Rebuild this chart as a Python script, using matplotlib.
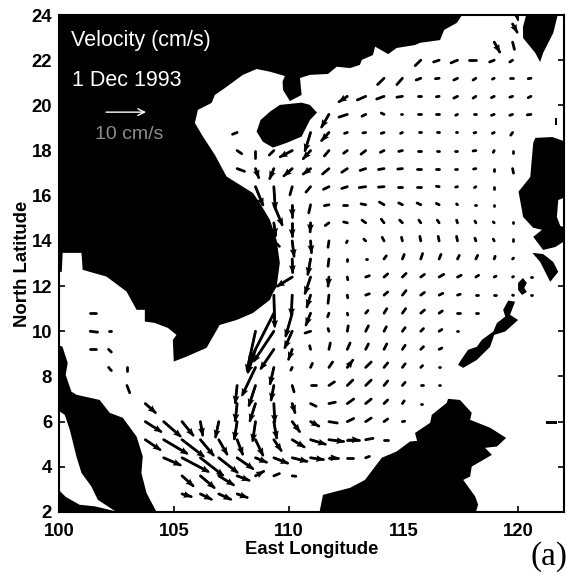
#!/usr/bin/env python
"""South China Sea surface velocity, 1 Dec 1993."""
import matplotlib
matplotlib.use("Agg")
import matplotlib.pyplot as plt
from matplotlib.collections import LineCollection
import numpy as np

# Coastlines as (lon, lat)
mainland = [(117.69, 24.2), (117.33, 23.65), (116.78, 23.34), (116.60, 22.89), (115.73, 22.77),
            (115.51, 22.67), (114.71, 22.54), (114.34, 22.27), (113.77, 22.60), (113.68, 22.23),
            (113.19, 22.01), (113.11, 21.79), (112.68, 21.65), (112.10, 21.71), (111.72, 21.39),
            (110.93, 21.35), (110.50, 21.21), (110.57, 20.46), (110.06, 20.19), (109.76, 20.68),
            (109.74, 21.05), (109.84, 21.30), (109.19, 21.49), (108.61, 21.61), (108.01, 21.35),
            (107.23, 20.77), (106.79, 20.46), (106.65, 20.11), (106.05, 19.80), (105.92, 19.22),
            (106.27, 18.62), (106.79, 17.81), (107.30, 16.85), (108.45, 16.12), (108.75, 15.68),
            (109.19, 14.93), (109.48, 14.04), (109.62, 13.03), (109.48, 11.96), (109.32, 11.70),
            (109.19, 11.39), (108.45, 10.81), (107.74, 10.50), (107.00, 10.28), (106.43, 9.27),
            (105.56, 8.88), (105.00, 8.66), (104.96, 9.62), (105.12, 9.84), (104.74, 10.15),
            (104.17, 10.37), (103.74, 10.43), (103.74, 10.95), (103.38, 10.95), (102.94, 11.76),
            (102.07, 12.42), (101.03, 12.72), (100.98, 13.47), (100.16, 13.47), (100.12, 12.63),
            (99.9, 12.63), (99.9, 24.2)]
hainan = [(109.62, 20.02), (110.57, 20.12), (110.93, 20.02), (111.24, 19.68), (110.93, 19.35),
          (110.57, 18.62), (109.92, 18.34), (109.32, 18.13), (108.88, 18.39), (108.61, 18.84),
          (108.78, 19.35), (109.19, 19.72)]
malay = [(99.9, 9.4), (100.15, 9.32), (100.38, 8.60), (100.29, 8.07), (100.54, 7.33),
         (100.76, 7.19), (101.77, 6.96), (102.21, 6.39), (102.78, 6.17), (103.38, 5.34),
         (103.65, 4.46), (103.59, 3.73), (103.81, 2.85), (104.30, 1.9), (102.5, 1.9),
         (102.5, 2.0), (101.69, 2.54), (101.41, 3.13), (100.98, 3.73), (100.76, 4.45),
         (100.47, 5.64), (100.25, 6.30), (100.03, 6.45), (99.9, 6.43)]
sumatra = [(99.9, 3.07), (100.29, 2.67), (100.9, 2.32), (101.56, 2.25), (102.6, 2.0),
           (102.6, 1.9), (99.9, 1.9)]
borneo = [(111.33, 1.9), (111.50, 2.76), (112.68, 3.07), (113.33, 3.42), (114.06, 4.40),
          (114.71, 4.68), (115.29, 5.12), (115.6, 5.15), (115.51, 5.50), (116.17, 5.95),
          (116.24, 6.30), (116.89, 6.83), (116.95, 7.01), (117.47, 6.96), (117.98, 6.39),
          (117.91, 6.08), (118.78, 5.73), (119.48, 5.28), (119.08, 4.90), (118.56, 4.84),
          (118.86, 4.53), (117.98, 4.01), (117.91, 3.57), (117.61, 3.42), (118.13, 2.69),
          (118.26, 2.32), (118.13, 1.9)]
luzon = [(120.75, 18.56), (121.49, 18.60), (122.1, 18.38), (122.1, 15.95), (121.75, 15.81),
         (121.69, 15.06), (121.84, 14.66), (122.1, 14.58), (122.1, 14.04), (121.62, 13.73),
         (121.09, 13.60), (120.66, 14.18), (121.04, 14.49), (120.66, 14.58), (120.22, 15.06),
         (120.02, 16.18), (120.53, 16.83), (120.66, 18.34)]
mindoro = [(120.62, 13.47), (121.09, 13.42), (121.53, 13.07), (121.75, 12.63), (121.40, 12.19),
           (121.18, 12.63), (120.96, 13.07)]
taiwan = [(120.38, 24.1), (121.75, 24.1), (121.53, 23.2), (121.09, 22.32), (120.96, 21.92),
          (120.75, 22.32), (120.22, 22.98), (120.21, 23.47)]
palawan = [(117.39, 8.51), (117.61, 8.38), (118.20, 8.73), (118.78, 9.31), (118.96, 9.84),
           (119.44, 9.99), (120.0, 10.50), (119.65, 10.73), (119.87, 11.31), (119.57, 11.36),
           (119.35, 10.95), (119.44, 10.65), (119.08, 10.37), (118.92, 9.99), (118.42, 9.62),
           (118.20, 9.31), (117.82, 9.18), (117.47, 8.66)]
busuanga = [(120.0, 12.14), (120.21, 12.36), (120.38, 12.14), (120.27, 11.92), (120.38, 11.74),
            (120.17, 11.61), (120.0, 11.83)]
islet_east = [(121.22, 6.03), (121.70, 6.03), (121.70, 5.90), (121.22, 5.90)]
islet_north = [(121.60, 19.45), (121.70, 19.45), (121.70, 19.15), (121.60, 19.15)]
LAND = [mainland, hainan, malay, sumatra, borneo, luzon, mindoro, taiwan, palawan, busuanga,
        islet_east, islet_north]

# Velocity grid: lon = 101.36 + 0.8 * col. Each entry is (lat, first col, [(east, south), ...]);
# digitised units, 40 units = 10 cm/s.
GRID_LON0 = 101.36
GRID_STEP = 0.8
UNITS_PER_10CMS = 40
segments = [
    (24.4, 23, [(5.5, 14)]),
    (23.6, 23, [(5, 9)]),
    (22.8, 22, [(6, 11), (2, 8)]),
    (22.0, 18, [(-6, 6), (-6, 2), (-7, 3), (-7, 0), (-5, 2), (-3, 2)]),
    (21.2, 16, [(-7, 7), (-6, 7), (-5, 2), (-4, .5), (-4, 2), (-3, 2), (-2, 1), (-3, 0), (-3, .5)]),
    (20.4, 14, [(-9, 6), (-9, 4), (-8, 3), (-6, 1), (-3, 0), (-3, .5), (-4, 2), (-3, 2), (-3, 1.5),
                (-3, 1), (-3, 1.5)]),
    (19.6, 13, [(-8, 14), (-9, 3), (-4, 2), (-3, -1.5), (-2, 0), (-3, 0), (-3, 0), (-2, 1), (-2, 0),
                (-3, 1), (-3, 1), (-4, .5)]),
    (18.8, 8, [(-5, 2)]),
    (18.8, 12, [(-6, 20), (-8, 9), (-3, 1), (-3, .5), (-3, 1), (-2, 1), (-2, 0), (-2, 0), (-2, 0),
                (-2, .5), (-2, 1), (-2, 3)]),
    (18.0, 8, [(5, 3.5), (0, 8), (-5, 5), (-13, 7), (-8, 9), (-5, 6), (-4, 3), (-5, 4), (-4, 2),
               (-4, 1), (-3, 0), (-2, 0), (-3, 0), (-3, .5), (-1, 2), (0, 3)]),
    (17.2, 8, [(8, 3), (3.5, 10), (-4.5, 11), (-9, 8), (-8, 6), (-7, 6), (-6, 4), (-6, 2), (-6, 1),
               (-5, .5), (-4, 0), (-3, 0), (-3, 0), (-2.5, .5), (0, 3), (1, 5)]),
    (16.4, 9, [(8, 20), (1.5, 24), (-2.5, 9), (-5, 6), (-6, 3), (-6, 2), (-7, 1), (-6, .5), (-5, 0),
               (-4, 0), (-3, -.5), (-2, .5), (-1.5, 1), (0, 2)]),
    (15.6, 10, [(9, 22), (0, 13), (-2, 9), (-5, 1), (-5, 0), (-5, -1), (-5, -3), (-4, -2), (-4, -2),
                (-3, -1.5), (-1, -1), (-1, 0), (0, 1.5)]),
    (14.8, 10, [(2, 14), (0, 15), (-.5, 10), (-4, 3), (-4, -1), (-4, -3), (-3, -4), (-3, -3), (-2, -3),
                (-2, -3), (-1, -3), (-1, -2), (-1, -1), (0, -.7)]),
    (14.0, 10, [(6, 6), (2, 17), (1, 13), (-1, 7), (-1, 2), (-2, -2), (-2, -4), (-1, -4), (-1, -5),
                (-1, -5), (-1, -5), (-1, -3), (-1, -2), (0, -2)]),
    (13.2, 11, [(.5, 15), (-3, 17), (-1, 8), (0, 2), (1, 0), (2.5, -3.5), (2, -5), (2, -6), (2, -5),
                (2, -4), (2, -4), (1, -3), (1, -1)]),
    (12.4, 11, [(-16, 10), (-6, 18), (-1, 10), (.5, 3), (4, -1.5), (4, -3.5), (4, -4), (4, -3), (5, -3),
                (4, -2), (3, -2), (2, -1), (1, -.5), (1, 0)]),
    (11.6, 10, [(1, 34), (-1, 22), (-4, 13), (-1, 9), (.5, 3), (4, -1.5), (4, -3.5), (4, -5), (4, -3),
                (4, -2), (3, -1), (2.5, 0), (2, 0), (1, .3), (1, 0)]),
    (10.8, 0, [(6, 0)]),
    (10.8, 10, [(-26, 52), (-7, 25), (-5, 13), (-1.5, 4), (.5, 2), (2.5, -3), (3, -5), (3.5, -5),
                (4, -3.5), (3.5, -2.5), (3, 0), (2.5, 0)]),
    (10.0, 0, [(8, 1), (3, 0)]),
    (10.0, 9, [(-9, 42), (-21, 32), (-8, 18), (-6, 2), (-1, -3), (1, -6), (3, -6), (2.5, -5), (3, -4),
               (3, -3), (3, -2), (1, 0)]),
    (9.2, 0, [(6, 0), (3, 3)]),
    (9.2, 9, [(-8, 25), (-14, 21), (-4, 11), (-1, -4), (1.5, -7), (3, -7), (3, -6), (3, -6), (3, -4.5),
              (3, -3), (3, -1.5)]),
    (8.4, 1, [(3, 3.5), (0, 4)]),
    (8.4, 9, [(-14, 30), (-4, 18), (-1.5, 3), (2, -4.5), (4, -6), (6, -8), (6, -6), (4, -5), (3, -4),
              (2, -2), (1, 0)]),
    (7.6, 2, [(3, 8)]),
    (7.6, 8, [(-2, 19), (-7, 22), (-3, 16), (2, 7), (6, 0), (6, -4), (6, -6), (6, -6), (4, -5), (3, -3.5),
              (2, 0), (1, 0)]),
    (6.8, 3, [(11, 10)]),
    (6.8, 8, [(-2, 19), (-6, 19), (1, 20), (3, 10), (6, 3), (7, -1.5), (7, -5), (6, -5), (4, -4), (2, -3),
              (1, 0)]),
    (6.0, 3, [(17, 11), (18, 16), (12, 15), (2.5, 15), (-3.5, 17), (-3, 19), (-3, 21), (3, 18), (8, 11),
              (9, 5), (9, 1.5), (7, -3.5), (6, -4), (4, -3), (2.5, -.5)]),
    (5.2, 3, [(16, 11), (25, 15), (23, 18), (14, 17), (9, 16), (6, 16), (8, 17), (8, 12), (13, 8), (16, 5),
              (16, 2), (13, 0), (8, -1.5), (4, 0)]),
    (4.4, 4, [(18, 8), (28, 15), (24, 19), (20, 16), (17, 12), (12, 5), (15, 6), (16, 4), (14, 2), (10, 0),
              (6, 0), (4, -1.5)]),
    (3.6, 5, [(12, 11), (15, 13), (16, 10), (13, 5), (9, -5), (6, -2.5), (4, .5)]),
    (2.8, 5, [(10, 3), (12, 6), (13, 6), (11, 4)]),
]

x_ticks = [100, 105, 110, 115, 120]
y_ticks = [2, 4, 6, 8, 10, 12, 14, 16, 18, 20, 22, 24]

plt.rcParams["font.family"] = ["Liberation Sans", "DejaVu Sans"]

W, H = 566, 576
fig = plt.figure(figsize=(W / 100, H / 100), dpi=100)
ax = fig.add_axes([59 / W, 1 - 512 / H, (564 - 59) / W, (512 - 15) / H])

for poly in LAND:
    ax.fill(*zip(*poly), color="black", lw=0, zorder=1)

lons, lats, east, south = [], [], [], []
for lat, col, vals in segments:
    for i, (e, s) in enumerate(vals):
        lons.append(GRID_LON0 + GRID_STEP * (col + i))
        lats.append(lat)
        east.append(e)
        south.append(s)
lons, lats, east, north = np.array(lons), np.array(lats), np.array(east), -np.array(south)

# one digitised unit is one pixel, 505 px spans the 22 degrees
deg_per_unit = 22 / 505
long_ones = np.hypot(east, north) >= 10
ax.quiver(lons[long_ones], lats[long_ones], east[long_ones], north[long_ones], angles="xy",
          scale_units="xy", scale=1 / deg_per_unit, units="dots", width=2.0, headwidth=3.4,
          headlength=4.2, headaxislength=3.8, minshaft=0.6, color="black", zorder=3)
# the small arrows are only blobs in the scan: round shafts without a head
tips = np.column_stack([lons + east * deg_per_unit * 0.92, lats + north * deg_per_unit * 0.92])
shafts = np.stack([np.column_stack([lons, lats]), tips], axis=1)
ax.add_collection(LineCollection(shafts, colors="black", linewidths=2.0, capstyle="round", zorder=3))

ax.set_xlim(100, 122)
ax.set_ylim(2, 24)
ax.set_xticks(x_ticks)
ax.set_yticks(y_ticks)
ax.tick_params(direction="in", length=4, width=1.2, top=True, right=True, labelsize=13.3)
ax.tick_params(axis="x", pad=8)
ax.tick_params(axis="y", pad=5)
for lab in ax.get_xticklabels() + ax.get_yticklabels():
    lab.set_fontweight("bold")
for sp in ax.spines.values():
    sp.set_linewidth(1.5)

ax.set_xlabel("East Longitude", fontsize=13.3, fontweight="bold", labelpad=1)
ax.set_ylabel("North Latitude", fontsize=13.3, fontweight="bold", labelpad=0)

ax.text(100.52, 22.88, "Velocity (cm/s)", color="white", fontsize=15.5, va="center", zorder=5)
ax.text(100.55, 21.1, "1 Dec 1993", color="white", fontsize=15.5, va="center", zorder=5)
ax.annotate("", xy=(102.05 + UNITS_PER_10CMS * deg_per_unit, 19.7), xytext=(102.05, 19.7),
            arrowprops=dict(arrowstyle="->", color="white", lw=1, shrinkA=0, shrinkB=0,
                            mutation_scale=12), zorder=5)
ax.text(103.07, 18.7, "10 cm/s", color="white", alpha=0.55, fontsize=14, ha="center", va="center",
        zorder=5)

fig.text(530 / W, 1 - 557 / H, "(a)", family="Liberation Serif", fontsize=24, va="center")

fig.savefig("out.png", dpi=100)
